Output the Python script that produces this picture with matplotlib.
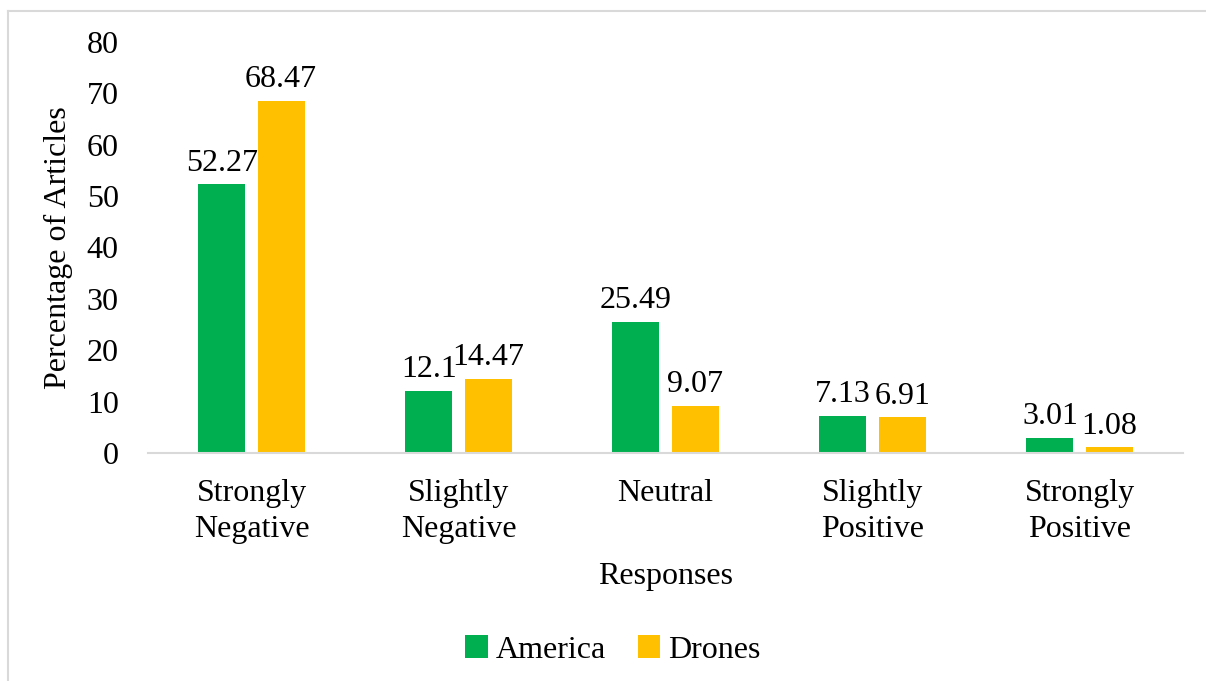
import matplotlib.pyplot as plt
import numpy as np
from matplotlib.lines import Line2D

# chart data
categories = ['Strongly\nNegative', 'Slightly\nNegative', 'Neutral', 'Slightly\nPositive', 'Strongly\nPositive']
america = [52.27, 12.1, 25.49, 7.13, 3.01]
drones = [68.47, 14.47, 9.07, 6.91, 1.08]
america_labels = ['52.27', '12.1', '25.49', '7.13', '3.01']
drones_labels = ['68.47', '14.47', '9.07', '6.91', '1.08']
y_ticks = [0, 10, 20, 30, 40, 50, 60, 70, 80]

plt.rcParams['font.family'] = ['Liberation Serif', 'DejaVu Serif']
FS = 23

W, H = 1206, 681
fig = plt.figure(figsize=(W / 100, H / 100), dpi=100)
ax = fig.add_axes([148 / W, 1 - 453 / H, (1183 - 148) / W, (453 - 42) / H])

x = np.arange(len(categories))
bar_w = 0.228
offset = 0.143
green = '#00B050'
yellow = '#FFC000'

b1 = ax.bar(x - offset, america, width=bar_w, color=green, label='America')
b2 = ax.bar(x + offset, drones, width=bar_w, color=yellow, label='Drones')
ax.bar_label(b1, labels=america_labels, padding=5, fontsize=FS)
ax.bar_label(b2, labels=drones_labels, padding=5, fontsize=FS)

ax.set_xlim(-0.5, len(categories) - 0.5)
ax.set_ylim(0, 80)
ax.set_yticks(y_ticks)
ax.set_xticks(x)
ax.set_xticklabels(categories, fontsize=FS, linespacing=1.3)
ax.tick_params(axis='y', length=0, labelsize=FS, pad=21)
ax.tick_params(axis='x', length=0, pad=19)

for side in ['top', 'right', 'left']:
    ax.spines[side].set_visible(False)
ax.spines['bottom'].set_color('#D9D9D9')
ax.spines['bottom'].set_linewidth(1.5)

ax.set_xlabel('Responses', fontsize=FS, labelpad=13)
ax.set_ylabel('Percentage of Articles', fontsize=FS, labelpad=10)

fig.legend(handles=[b1, b2], labels=['America', 'Drones'], loc='center',
           bbox_to_anchor=(613 / W, 1 - 650 / H), ncol=2, frameon=False,
           fontsize=FS, handlelength=0.7, handleheight=0.7, handletextpad=0.25,
           columnspacing=1.0)

# light gray outer border (top and left edges visible)
fig.add_artist(Line2D([8 / W, 1.0], [1 - 11 / H, 1 - 11 / H], color='#D9D9D9', lw=1.5,
                      transform=fig.transFigure))
fig.add_artist(Line2D([8 / W, 8 / W], [0.0, 1 - 11 / H], color='#D9D9D9', lw=1.5,
                      transform=fig.transFigure))

fig.savefig('out.png', dpi=100)
